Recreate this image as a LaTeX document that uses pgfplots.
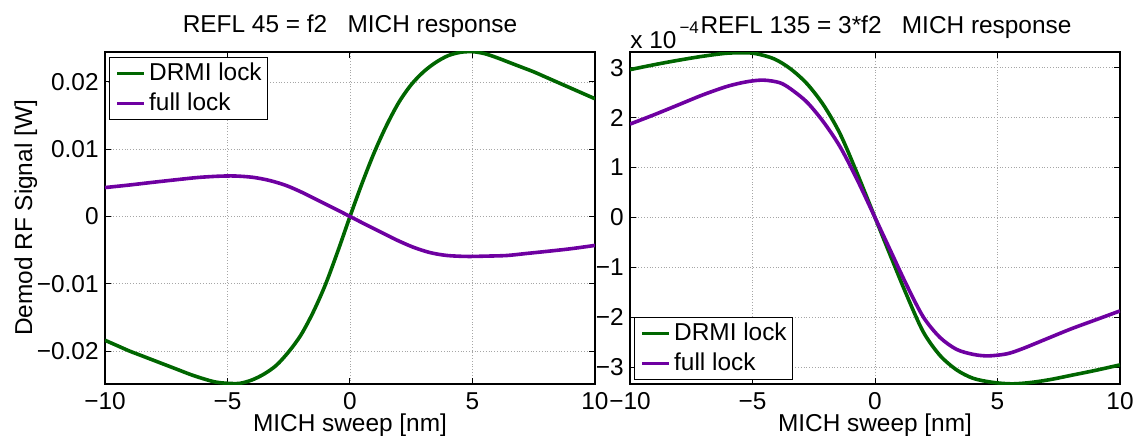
\documentclass[border=0pt]{standalone}
\usepackage{fontspec}
\setmainfont{Liberation Sans}
\usepackage{pgfplots}
\pgfplotsset{compat=1.18}

\definecolor{drmi}{rgb}{0,0.4,0}
\definecolor{full}{rgb}{0.43,0,0.63}

\pgfplotsset{
  mich/.style={
    scale only axis, width=245pt, height=166pt,
    xmin=-10, xmax=10,
    xtick={-10,-5,0,5,10},
    xticklabels={−10,−5,0,5,10},
    scaled y ticks=false,
    grid=major,
    major grid style={densely dotted, black!35, line width=0.4pt},
    tick align=inside,
    major tick length=3pt,
    tick style={black, line width=0.5pt},
    axis line style={line width=0.8pt},
    font=\fontsize{12.2}{14}\selectfont,
    xticklabel style={anchor=base, yshift=-12.5pt, inner sep=0pt},
    yticklabel style={anchor=east, inner sep=0pt, xshift=-3pt},
    title style={at={(0.5,1)}, anchor=base, yshift=3.5pt, inner sep=0pt},
    xlabel={MICH sweep [nm]},
    xlabel style={at={(axis description cs:0.5,0)}, anchor=base, yshift=-23.5pt, inner sep=0pt},
    legend style={draw=black, line width=0.6pt, fill=white,
      inner xsep=3pt, inner ysep=2pt, row sep=3pt, column sep=1.5pt,
      nodes={inner sep=0pt, text height=9.5pt, text depth=2.5pt}},
    legend cell align=left,
    legend image code/.code={\draw[#1, line width=1.8pt] (0pt,0pt) -- (13.5pt,0pt);},
    every axis plot/.append style={line width=1.8pt, smooth, no marks},
  }
}

\begin{document}
\begin{tikzpicture}
\useasboundingbox (-52.5pt,-25.5pt) rectangle (515.5pt,192pt);

% REFL 45
\begin{axis}[mich,
  at={(0pt,0pt)}, anchor=south west,
  ymin=-0.0249, ymax=0.02445,
  ytick={-0.02,-0.01,0,0.01,0.02},
  yticklabels={−0.02,−0.01,0,0.01,0.02},
  title={REFL 45 = f2\ \ \ MICH response},
  ylabel={Demod RF Signal [W]},
  ylabel style={at={(axis description cs:-0.1488,0.5)}, anchor=base, inner sep=0pt},
  legend style={at={(rel axis cs:0,1)}, anchor=north west, xshift=2pt, yshift=-2.5pt},
]
\addplot[drmi] coordinates {
(-10,-0.0184) (-9.5,-0.0192) (-9,-0.0200) (-8.5,-0.0207) (-8,-0.0214) (-7.5,-0.0221)
(-7,-0.0228) (-6.5,-0.0235) (-6,-0.0241) (-5.5,-0.0246) (-5,-0.0248) (-4.5,-0.0248)
(-4,-0.0243) (-3.5,-0.0234) (-3,-0.0221) (-2.5,-0.0201) (-2,-0.0176) (-1.5,-0.0142)
(-1,-0.0101) (-0.5,-0.0052) (0,0) (0.5,0.0050) (1,0.0096) (1.5,0.0136)
(2,0.0170) (2.5,0.0196) (3,0.0215) (3.5,0.0229) (4,0.0239) (4.5,0.0244)
(5,0.0245) (5.5,0.0242) (6,0.0236) (6.5,0.0229) (7,0.0222) (7.5,0.0215)
(8,0.0207) (8.5,0.0199) (9,0.0191) (9.5,0.0183) (10,0.0175)
};
\addlegendentry{DRMI lock}
\addplot[full] coordinates {
(-10,0.0043) (-9,0.00468) (-8,0.0051) (-7,0.0055) (-6.2,0.0058) (-5.4,0.00598)
(-4.7,0.00602) (-3.96,0.00582) (-3.28,0.00535) (-2.6,0.0046) (-1.92,0.00352)
(-1.24,0.00228) (-0.56,0.00105) (0,0) (0.53,-0.00099) (1.21,-0.00223)
(1.89,-0.00347) (2.57,-0.00455) (3.25,-0.00535) (3.94,-0.00579) (4.76,-0.00594)
(5.57,-0.00589) (6.4,-0.0058) (7.2,-0.0055) (8,-0.0052) (9,-0.0048) (10,-0.0043)
};
\addlegendentry{full lock}
\end{axis}

% REFL 135
\begin{axis}[mich, name=r,
  at={(262.5pt,0pt)}, anchor=south west,
  ymin=-3.333e-4, ymax=3.313e-4,
  ytick={-3e-4,-2e-4,-1e-4,0,1e-4,2e-4,3e-4},
  yticklabels={−3,−2,−1,0,1,2,3},
  title={REFL 135 = 3*f2\ \ \ MICH response},
  title style={xshift=5.5pt},
  legend style={at={(rel axis cs:0,0)}, anchor=south west, xshift=2pt, yshift=2pt},
]
\addplot[drmi] coordinates {
(-10,2.96e-4) (-9,3.06e-4) (-8,3.15e-4) (-7,3.23e-4) (-6,3.29e-4) (-5,3.29e-4)
(-4.14,3.18e-4) (-3.46,2.98e-4) (-2.78,2.68e-4) (-2.1,2.25e-4) (-1.43,1.68e-4)
(-0.75,0.91e-4) (0,0) (0.61,-0.74e-4) (1.29,-1.55e-4) (1.97,-2.29e-4)
(2.65,-2.76e-4) (3.33,-3.05e-4) (4.01,-3.22e-4) (4.8,-3.30e-4) (5.6,-3.33e-4)
(6.4,-3.30e-4) (7.2,-3.24e-4) (8,-3.16e-4) (9,-3.06e-4) (10,-2.95e-4)
};
\addlegendentry{DRMI lock}
\addplot[full] coordinates {
(-10,1.87e-4) (-9,2.06e-4) (-8,2.26e-4) (-7,2.46e-4) (-6,2.63e-4) (-5.2,2.72e-4)
(-4.55,2.75e-4) (-3.9,2.70e-4) (-3.46,2.58e-4) (-2.78,2.31e-4) (-2.1,1.91e-4)
(-1.43,1.42e-4) (-0.75,0.78e-4) (0,0) (0.61,-0.64e-4) (1.29,-1.35e-4)
(1.97,-1.99e-4) (2.65,-2.40e-4) (3.33,-2.64e-4) (4.01,-2.74e-4) (4.62,-2.77e-4)
(5.37,-2.73e-4) (6,-2.63e-4) (7,-2.43e-4) (8,-2.23e-4) (9,-2.05e-4) (10,-1.87e-4)
};
\addlegendentry{full lock}
\end{axis}
\node[anchor=base west, inner sep=0pt, font=\fontsize{12.2}{14}\selectfont]
  at ([yshift=2pt]r.north west)
  {x 10\hspace{1.5pt}\raisebox{7.5pt}{\fontsize{8.5}{10}\selectfont −4}};
\end{tikzpicture}
\end{document}
